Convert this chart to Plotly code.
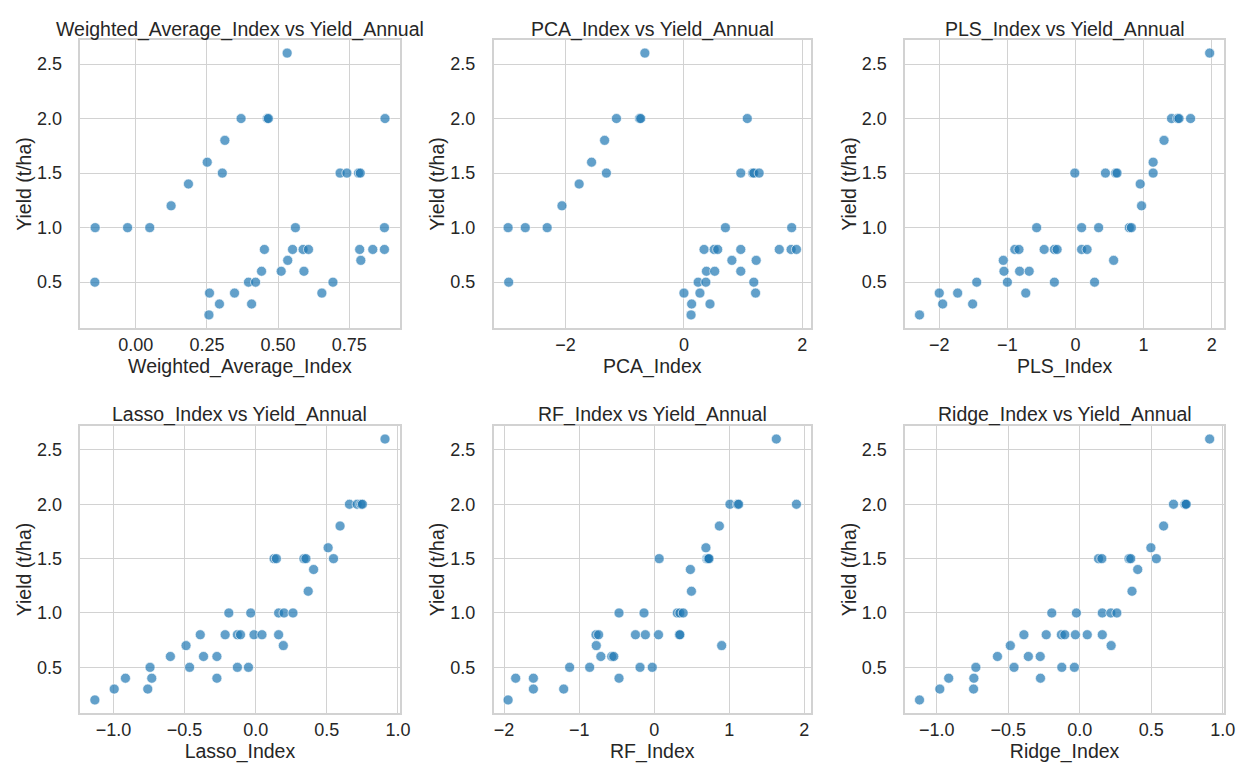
import plotly.graph_objects as go

# ---------------- data ----------------
yield_annual = [2.6,
                2.0, 2.0, 2.0, 2.0,
                1.8, 1.6,
                1.5, 1.5, 1.5, 1.5, 1.5,
                1.4, 1.2,
                1.0, 1.0, 1.0, 1.0, 1.0,
                0.8, 0.8, 0.8, 0.8, 0.8, 0.8, 0.8,
                0.7, 0.7,
                0.6, 0.6, 0.6,
                0.5, 0.5, 0.5, 0.5,
                0.4, 0.4, 0.4,
                0.3, 0.3,
                0.2]

weighted_average_index = [0.532,
                          0.370, 0.462, 0.466, 0.876,
                          0.313, 0.251,
                          0.304, 0.718, 0.742, 0.783, 0.789,
                          0.185, 0.124,
                          -0.143, -0.029, 0.049, 0.561, 0.874,
                          0.452, 0.551, 0.588, 0.607, 0.787, 0.833, 0.874,
                          0.534, 0.791,
                          0.442, 0.511, 0.591,
                          -0.144, 0.396, 0.421, 0.693,
                          0.259, 0.347, 0.654,
                          0.294, 0.407,
                          0.257]

pca_index = [-0.66,
             -1.14, -0.75, -0.73, 1.07,
             -1.34, -1.56,
             -1.31, 0.96, 1.16, 1.18, 1.27,
             -1.77, -2.06,
             -2.97, -2.68, -2.31, 0.70, 1.82,
             0.34, 0.51, 0.57, 0.96, 1.61, 1.81, 1.90,
             0.81, 1.22,
             0.38, 0.52, 0.96,
             -2.96, 0.24, 0.37, 1.18,
             0.0, 0.27, 1.21,
             0.13, 0.44,
             0.12]

pls_index = [1.97,
             1.41, 1.50, 1.52, 1.69,
             1.30, 1.14,
             -0.01, 0.44, 0.59, 0.61, 1.14,
             0.95, 0.97,
             -0.57, 0.09, 0.34, 0.79, 0.82,
             -0.89, -0.83, -0.46, -0.31, -0.27, 0.09, 0.17,
             -1.06, 0.56,
             -1.05, -0.82, -0.68,
             -1.45, -1.00, -0.31, 0.28,
             -2.00, -1.73, -0.73,
             -1.95, -1.51,
             -2.29]

lasso_index = [0.909,
               0.659, 0.713, 0.740, 0.750,
               0.593, 0.509,
               0.129, 0.145, 0.339, 0.353, 0.547,
               0.407, 0.369,
               -0.189, -0.035, 0.161, 0.199, 0.262,
               -0.390, -0.215, -0.129, -0.107, -0.012, 0.044, 0.161,
               -0.490, 0.194,
               -0.600, -0.367, -0.273,
               -0.743, -0.465, -0.129, -0.051,
               -0.916, -0.731, -0.273,
               -0.995, -0.759,
               -1.131]

rf_index = [1.627,
            1.009, 1.110, 1.125, 1.895,
            0.868, 0.689,
            0.066, 0.700, 0.710, 0.720, 0.730,
            0.482, 0.496,
            -0.469, -0.136, 0.307, 0.342, 0.386,
            -0.776, -0.741, -0.250, -0.118, 0.057, 0.335, 0.342,
            -0.772, 0.899,
            -0.711, -0.566, -0.539,
            -1.127, -0.860, -0.189, -0.026,
            -1.846, -1.610, -0.469,
            -1.610, -1.206,
            -1.947]

ridge_index = [0.909,
               0.656, 0.735, 0.740, 0.745,
               0.587, 0.498,
               0.132, 0.155, 0.345, 0.357, 0.536,
               0.406, 0.366,
               -0.195, -0.023, 0.158, 0.218, 0.260,
               -0.390, -0.234, -0.128, -0.104, -0.030, 0.053, 0.158,
               -0.485, 0.220,
               -0.575, -0.359, -0.276,
               -0.726, -0.459, -0.125, -0.037,
               -0.916, -0.740, -0.274,
               -0.978, -0.742,
               -1.120]

index_names = ["Weighted_Average_Index", "PCA_Index", "PLS_Index",
               "Lasso_Index", "RF_Index", "Ridge_Index"]
index_values = [weighted_average_index, pca_index, pls_index,
                lasso_index, rf_index, ridge_index]
x_dticks = [0.25, 2, 1, 0.5, 1, 0.5]
x_formats = [".2f", "", "", ".1f", "", ".1f"]
y_label = "Yield (t/ha)"

# ---------------- layout geometry ----------------
W, H = 1246, 763
col_px = [(73, 395), (490, 810), (905, 1227)]
row_px = [(32, 320), (418, 705)]
title_y_px = [21, 406]

FONT = "Liberation Sans, Arial, sans-serif"
GRID = "#d2d2d2"
TXT = "#262626"
TICK_SIZE = 18
LABEL_SIZE = 19.5


def pad_range(vals, frac=0.05):
    lo, hi = min(vals), max(vals)
    p = (hi - lo) * frac
    return [lo - p, hi + p]


fig = go.Figure()
layout = dict(
    width=W, height=H,
    margin=dict(l=0, r=0, t=0, b=0),
    paper_bgcolor="white", plot_bgcolor="white",
    showlegend=False,
    font=dict(family=FONT, color=TXT, size=TICK_SIZE),
    annotations=[],
)

for i, (name, xs) in enumerate(zip(index_names, index_values)):
    r, c = divmod(i, 3)
    n = i + 1
    xa = "x" if n == 1 else f"x{n}"
    ya = "y" if n == 1 else f"y{n}"
    fig.add_trace(go.Scatter(
        x=xs, y=yield_annual, mode="markers", xaxis=xa, yaxis=ya,
        marker=dict(size=10, color="rgba(31,119,180,0.7)",
                    line=dict(color="rgba(255,255,255,0.8)", width=0.8)),
        hoverinfo="x+y",
    ))
    x0, x1 = col_px[c]
    yt, yb = row_px[r]
    xaxis = dict(
        domain=[x0 / W, x1 / W], anchor=ya,
        range=pad_range(xs), dtick=x_dticks[i], tick0=0,
        tickformat=x_formats[i],
        showgrid=True, gridcolor=GRID, gridwidth=1.3,
        showline=True, linecolor=GRID, linewidth=1.5, mirror=True,
        zeroline=False, ticks="", tickfont=dict(size=TICK_SIZE, color=TXT),
        title=dict(text=name, font=dict(size=LABEL_SIZE, color=TXT), standoff=0),
    )
    yaxis = dict(
        domain=[1 - yb / H, 1 - yt / H], anchor=xa,
        range=pad_range(yield_annual), dtick=0.5, tick0=0, tickformat=".1f",
        showgrid=True, gridcolor=GRID, gridwidth=1.3,
        showline=True, linecolor=GRID, linewidth=1.5, mirror=True,
        zeroline=False, ticks="", tickfont=dict(size=TICK_SIZE, color=TXT),
        ticklabelstandoff=13,
        title=dict(text=y_label, font=dict(size=LABEL_SIZE, color=TXT), standoff=0),
    )
    layout["xaxis" if n == 1 else f"xaxis{n}"] = xaxis
    layout["yaxis" if n == 1 else f"yaxis{n}"] = yaxis
    layout["annotations"].append(dict(
        text=f"{name} vs Yield_Annual", showarrow=False,
        xref="paper", yref="paper",
        x=(x0 + x1) / 2 / W, y=1 - title_y_px[r] / H,
        xanchor="center", yanchor="middle",
        font=dict(size=LABEL_SIZE, color=TXT),
    ))

fig.update_layout(**layout)
fig.write_html("out.html")
